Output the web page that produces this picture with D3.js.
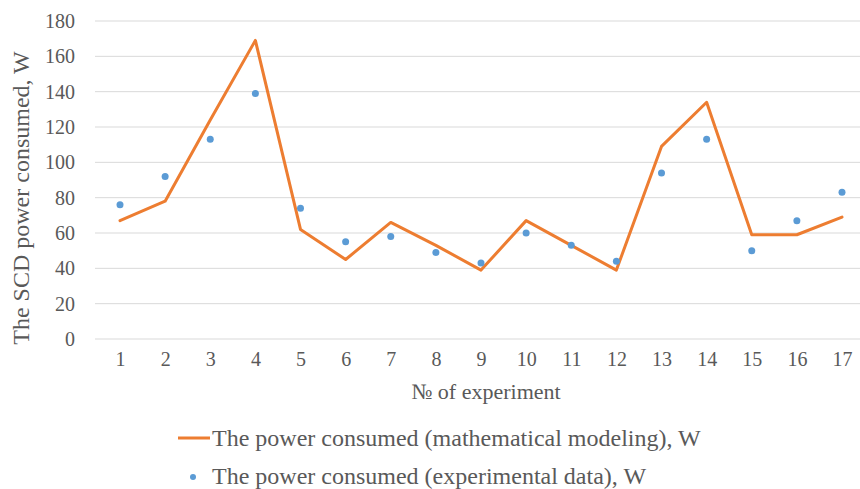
<!DOCTYPE html>
<html><head><meta charset="utf-8">
<script src="https://cdn.jsdelivr.net/npm/d3@7"></script>
<style>body{margin:0;background:#fff}svg text{font-family:"Liberation Serif","Times New Roman",serif;fill:#595959}</style>
</head><body>
<svg id="c" width="860" height="489"></svg>
<script>
const categories = ["1","2","3","4","5","6","7","8","9","10","11","12","13","14","15","16","17"];
const modelValues = [67,78,124,169,62,45,66,53,39,67,53,39,109,134,59,59,69];
const experimentValues = [76,92,113,139,74,55,58,49,43,60,53,44,94,113,50,67,83];
const yTicks = [0,20,40,60,80,100,120,140,160,180];
const seriesNames = ["The power consumed (mathematical modeling), W","The power consumed (experimental data), W"];

const svg = d3.select("#c");
const x = d3.scalePoint().domain(categories).range([120, 842]);
const y = d3.scaleLinear().domain([0,180]).range([339, 21]);

// gridlines
svg.append("g").selectAll("line").data(yTicks).join("line")
  .attr("x1", 95).attr("x2", 860)
  .attr("y1", d=>y(d)).attr("y2", d=>y(d))
  .attr("stroke", "#d9d9d9").attr("stroke-width", 1);

// y axis labels
const yAxis = svg.append("g").attr("transform","translate(75,0)")
  .call(d3.axisLeft(y).tickValues(yTicks).tickSize(0).tickPadding(0));
yAxis.select(".domain").remove();
yAxis.selectAll("text").attr("font-size", 20).attr("font-family","Liberation Serif").attr("fill","#595959").attr("dy","0.33em");

// x axis labels
const xAxis = svg.append("g").attr("transform","translate(0,366)")
  .call(d3.axisBottom(x).tickSize(0).tickPadding(0));
xAxis.select(".domain").remove();
xAxis.selectAll("text").attr("font-size", 20).attr("font-family","Liberation Serif").attr("fill","#595959").attr("dy","0");

// titles
svg.append("text").attr("x", 486).attr("y", 399).attr("text-anchor","middle")
  .attr("font-size", 22).text("№ of experiment");
svg.append("text").attr("transform","translate(29,198) rotate(-90)").attr("text-anchor","middle")
  .attr("font-size", 24).text("The SCD power consumed, W");

// line
const line = d3.line().x((d,i)=>x(categories[i])).y(d=>y(d));
svg.append("path").datum(modelValues).attr("d", line)
  .attr("fill","none").attr("stroke","#ed7d31").attr("stroke-width",3).attr("stroke-linejoin","round").attr("stroke-linecap","round");

// points
svg.append("g").selectAll("circle").data(experimentValues).join("circle")
  .attr("cx",(d,i)=>x(categories[i])).attr("cy", d=>y(d)).attr("r",3.5)
  .attr("fill","#5b9bd5");

// legend
svg.append("line").attr("x1",178).attr("x2",210).attr("y1",438).attr("y2",438)
  .attr("stroke","#ed7d31").attr("stroke-width",3);
svg.append("text").attr("x",212).attr("y",446).attr("font-size",24).text(seriesNames[0]);
svg.append("circle").attr("cx",193).attr("cy",477).attr("r",3).attr("fill","#5b9bd5");
svg.append("text").attr("x",212).attr("y",484).attr("font-size",24).text(seriesNames[1]);
</script>
</body></html>
